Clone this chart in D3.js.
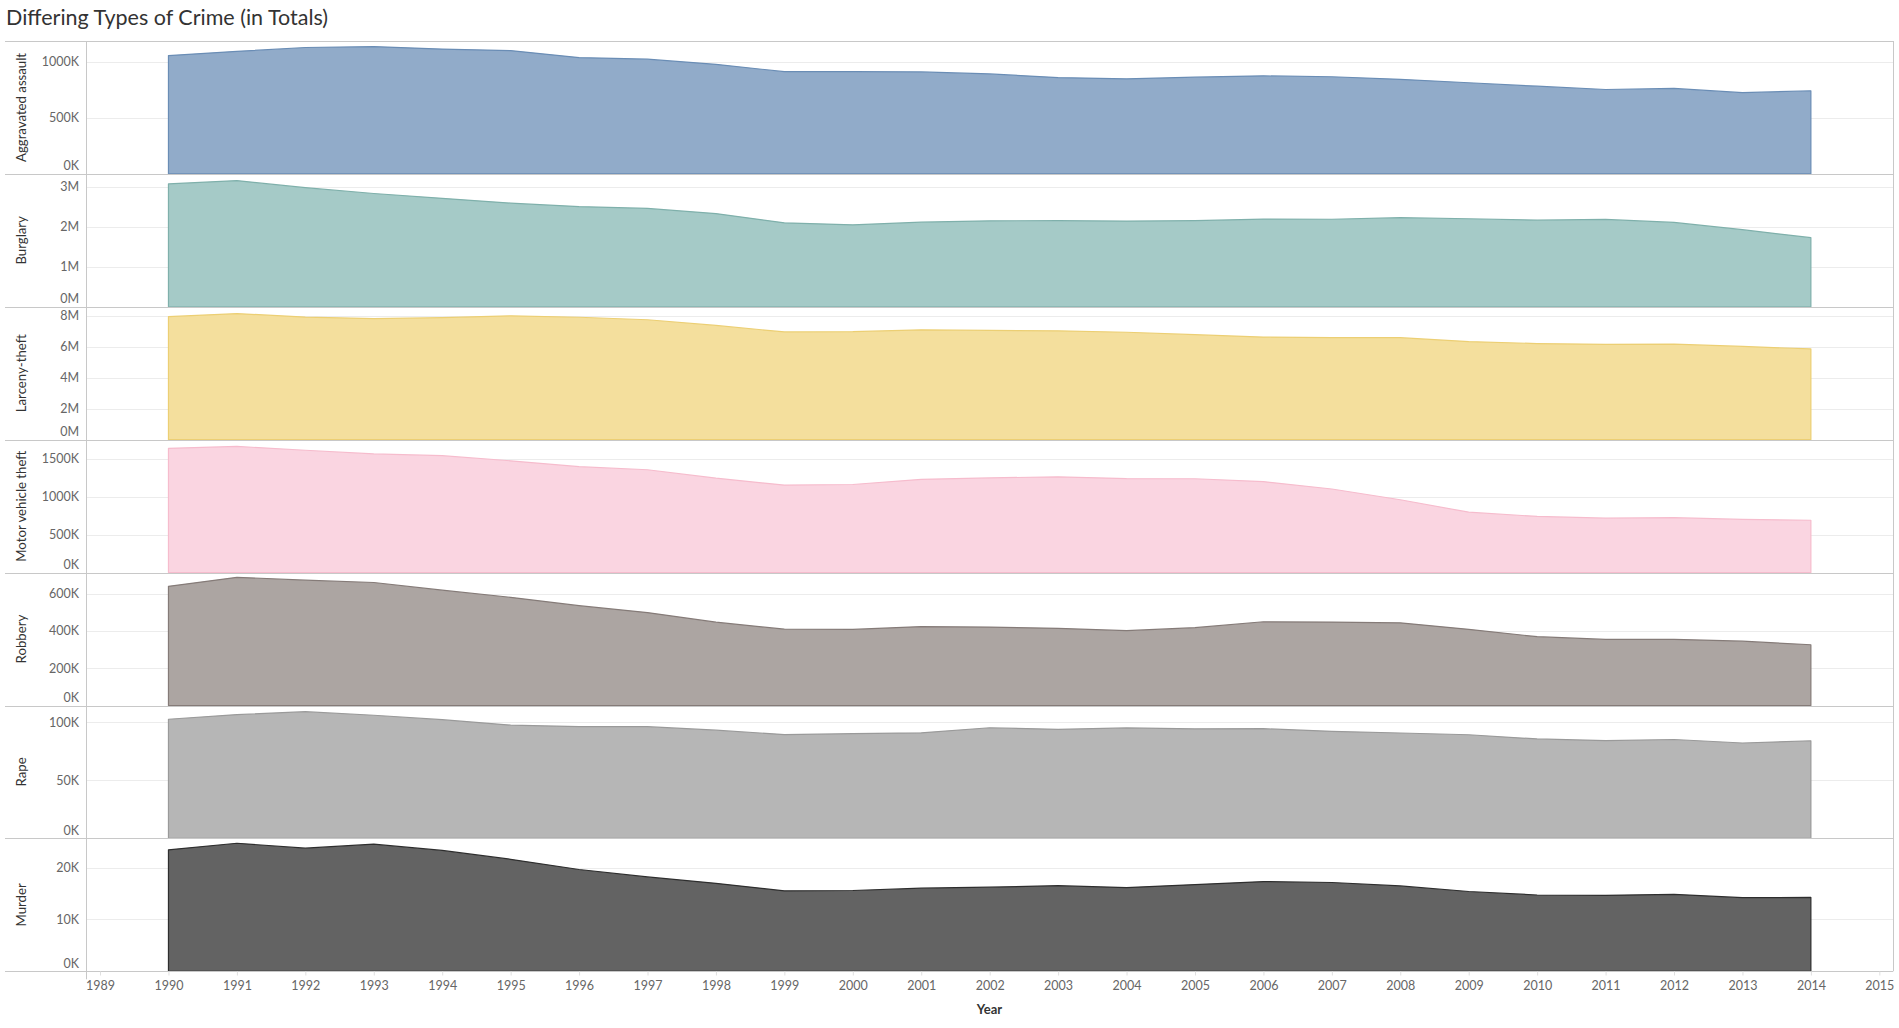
<!DOCTYPE html>
<html>
<head>
<meta charset="utf-8">
<script src="https://cdn.jsdelivr.net/npm/d3@7"></script>
<style>
  html, body { margin: 0; padding: 0; background: #fff; }
  svg { display: block; }
  text { font-family: Lato, "Open Sans", sans-serif; }
</style>
</head>
<body>
<svg id="chart" width="1899" height="1028"></svg>
<script>
const years = [1990,1991,1992,1993,1994,1995,1996,1997,1998,1999,2000,2001,2002,2003,2004,2005,2006,2007,2008,2009,2010,2011,2012,2013,2014];
const xTickYears = [1989,1990,1991,1992,1993,1994,1995,1996,1997,1998,1999,2000,2001,2002,2003,2004,2005,2006,2007,2008,2009,2010,2011,2012,2013,2014,2015];
const crimeTypes = ["Aggravated assault","Burglary","Larceny-theft","Motor vehicle theft","Robbery","Rape","Murder"];

const aggravatedAssault = [1054863,1092739,1126974,1135607,1113179,1099207,1037049,1023201,976583,911740,911706,909023,891407,859030,847381,862220,874096,866358,843683,812514,781844,752423,762009,724149,741291];
const burglary = [3073909,3157150,2979884,2834808,2712774,2593784,2506400,2460526,2332735,2100739,2050992,2116531,2151252,2154834,2144446,2155448,2194993,2190198,2228887,2203313,2168459,2185140,2109932,1928465,1729806];
const larcenyTheft = [7945670,8142228,7915199,7820909,7879812,7997710,7904685,7743760,7376311,6955520,6971590,7092267,7057379,7026802,6937089,6783447,6626363,6591542,6586206,6338095,6204601,6159795,6168874,6019465,5858496];
const motorVehicleTheft = [1635907,1661738,1610834,1563060,1539287,1472441,1394238,1354189,1242781,1152075,1160002,1228391,1246646,1261226,1237851,1235859,1198245,1100472,959059,795652,739565,716508,723186,700288,689527];
const robbery = [639271,687732,672478,659870,618949,580509,535594,498534,447186,409371,408016,423557,420806,414235,401470,417438,449246,447324,443563,408742,369089,354746,355051,345031,325802];
const rape = [102555,106593,109062,106014,102216,97470,96252,96153,93144,89411,90178,90863,95235,93883,95089,94347,94472,92160,90750,89241,85593,84175,85141,82109,84041];
const murder = [23438,24703,23760,24526,23326,21606,19645,18208,16974,15522,15586,16037,16229,16528,16148,16740,17309,17128,16465,15399,14722,14661,14856,14196,14249];

const seriesValues = [aggravatedAssault, burglary, larcenyTheft, motorVehicleTheft, robbery, rape, murder];
const yMax = [1185000, 3325000, 8580000, 1750000, 713000, 114400, 25640];
const yTicks = [
  [0, 500000, 1000000],
  [0, 1000000, 2000000, 3000000],
  [0, 2000000, 4000000, 6000000, 8000000],
  [0, 500000, 1000000, 1500000],
  [0, 200000, 400000, 600000],
  [0, 50000, 100000],
  [0, 10000, 20000]
];
const yUnits = ["K","M","M","K","K","K","K"];
const fillColors = ["#91abc9","#a5cac7","#f4df9d","#fad5e1","#aca5a2","#b6b6b6","#636363"];
const strokeColors = ["#6a8db5","#7fb0ab","#eccf74","#f6bccd","#857b78","#9a9a9a","#2e2e2e"];

const svg = d3.select("#chart");
const left = 86, right = 1893, outerLeft = 5;
const top0 = 41, panelH = 132.9;
const nP = crimeTypes.length;
const bottom = top0 + panelH * nP;

svg.append("text")
  .attr("x", 6).attr("y", 25)
  .attr("font-size", 21.5).attr("fill", "#333")
  .text("Differing Types of Crime (in Totals)");

const x = d3.scaleLinear().domain([1988.795, 2015.2]).range([left, right]);

const fmt = (v, u) => u === "M" ? (v / 1e6) + "M" : (v / 1e3) + "K";

crimeTypes.forEach((name, i) => {
  const pTop = top0 + panelH * i;
  const pBot = pTop + panelH;
  const y = d3.scaleLinear().domain([0, yMax[i]]).range([pBot, pTop]);
  const g = svg.append("g");

  g.selectAll("line.grid").data(yTicks[i].filter(t => t > 0)).enter()
    .append("line")
    .attr("x1", left).attr("x2", right)
    .attr("y1", d => Math.round(y(d)) + 0.5).attr("y2", d => Math.round(y(d)) + 0.5)
    .attr("stroke", "#ececec").attr("stroke-width", 1);

  const data = years.map((yr, k) => ({ yr, v: seriesValues[i][k] }));
  const area = d3.area().x(d => x(d.yr)).y0(y(0)).y1(d => y(d.v));
  g.append("path")
    .datum(data)
    .attr("d", area)
    .attr("fill", fillColors[i])
    .attr("stroke", strokeColors[i])
    .attr("stroke-width", 1.2)
    .attr("stroke-linejoin", "round");

  g.selectAll("text.yt").data(yTicks[i]).enter()
    .append("text")
    .attr("x", 79)
    .attr("y", d => Math.max(pTop + 9, Math.min(pBot - 8, y(d))))
    .attr("dy", "0.35em")
    .attr("text-anchor", "end")
    .attr("font-size", 12.5)
    .attr("fill", "#666")
    .text(d => fmt(d, yUnits[i]));

  g.append("text")
    .attr("transform", `translate(21,${(pTop + pBot) / 2}) rotate(-90)`)
    .attr("dy", "0.35em")
    .attr("text-anchor", "middle")
    .attr("font-size", 13.2)
    .attr("fill", "#333")
    .text(name);

  svg.append("line")
    .attr("x1", outerLeft).attr("x2", right)
    .attr("y1", Math.round(pBot) + 0.5).attr("y2", Math.round(pBot) + 0.5)
    .attr("stroke", "#c8c8c8").attr("stroke-width", 1);
});

svg.append("line").attr("x1", outerLeft).attr("x2", right)
  .attr("y1", top0 + 0.5).attr("y2", top0 + 0.5)
  .attr("stroke", "#c8c8c8");
svg.append("line").attr("x1", left + 0.5).attr("x2", left + 0.5)
  .attr("y1", top0).attr("y2", bottom + 8)
  .attr("stroke", "#c8c8c8");
svg.append("line").attr("x1", right + 0.5).attr("x2", right + 0.5)
  .attr("y1", top0).attr("y2", bottom)
  .attr("stroke", "#c8c8c8");

const xAxis = d3.axisBottom(x)
  .tickValues(xTickYears)
  .tickFormat(d3.format("d"))
  .tickSize(4)
  .tickPadding(6);
const ax = svg.append("g")
  .attr("transform", `translate(0,${Math.round(bottom) + 0.5})`)
  .call(xAxis);
ax.select(".domain").remove();
ax.selectAll(".tick line").attr("stroke", "#e0e0e0");
ax.selectAll(".tick text")
  .attr("font-family", "Lato, 'Open Sans', sans-serif")
  .attr("font-size", 12.5)
  .attr("fill", "#666");

svg.append("text")
  .attr("x", (left + right) / 2).attr("y", 1014)
  .attr("text-anchor", "middle")
  .attr("font-size", 13).attr("font-weight", "bold")
  .attr("fill", "#333")
  .text("Year");
</script>
</body>
</html>
